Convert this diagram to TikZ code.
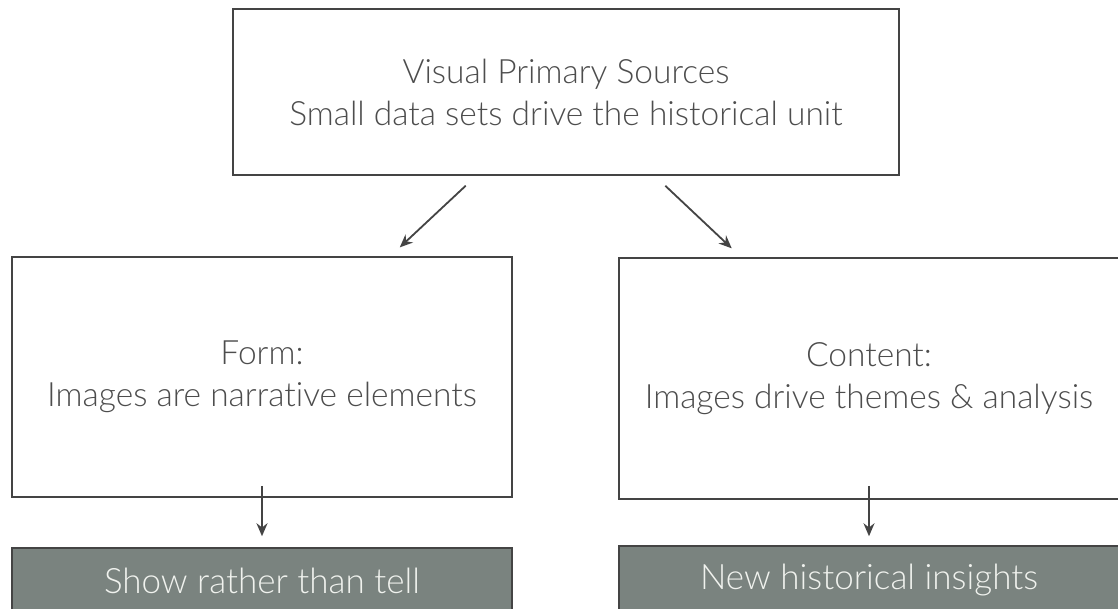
\documentclass[tikz,border=0pt]{standalone}
\usepackage{fontspec}
\setmainfont{Lato Light}[Ligatures=NoCommon]
\usetikzlibrary{arrows.meta}
\definecolor{txtgray}{HTML}{4D4D4D}
\definecolor{linegray}{HTML}{444444}
\definecolor{darkfill}{HTML}{7A837F}
\definecolor{lighttxt}{HTML}{F0F2EE}
\tikzset{
  box/.style={draw=linegray, line width=1.5pt, fill=white, rectangle, inner sep=0pt,
    align=center, text=txtgray, font=\fontsize{33.5}{42}\selectfont},
  darkbox/.style={draw=linegray, line width=1.5pt, fill=darkfill, rectangle, inner sep=0pt,
    align=center, text=lighttxt, font=\fontsize{35}{42}\selectfont},
  arr/.style={draw=linegray, line width=1.8pt, -{Stealth[length=13pt,width=11pt]}}
}
\begin{document}
\begin{tikzpicture}[x=1pt,y=-1pt]
\clip (0,0) rectangle (1118,609);
\useasboundingbox (0,0) rectangle (1118,609);
\fill[white] (0,0) rectangle (1118,609);
\node[box, minimum width=666pt, minimum height=166pt] (top) at (566,92)
  {Visual Primary Sources\\Small data sets drive the historical unit};
\node[box, minimum width=500pt, minimum height=240pt] (left) at (262,377)
  {Form:\\Images are narrative elements};
\node[box, minimum width=500pt, minimum height=241pt] (right) at (869,378.5)
  {Content:\\Images drive themes \& analysis};
\node[darkbox, minimum width=500pt, minimum height=66pt] (ldark) at (262,581)
  {Show rather than tell};
\node[darkbox, minimum width=500pt, minimum height=68pt] (rdark) at (869,580)
  {New historical insights};
\draw[arr, shorten <=14.6pt, shorten >=13pt] (top) -- (left);
\draw[arr, shorten <=14.6pt, shorten >=13pt] (top) -- (right);
\draw[arr, shorten <=-12pt, shorten >=11pt] (left) -- (ldark);
\draw[arr, shorten <=-14pt, shorten >=9pt] (right) -- (rdark);
\end{tikzpicture}
\end{document}
